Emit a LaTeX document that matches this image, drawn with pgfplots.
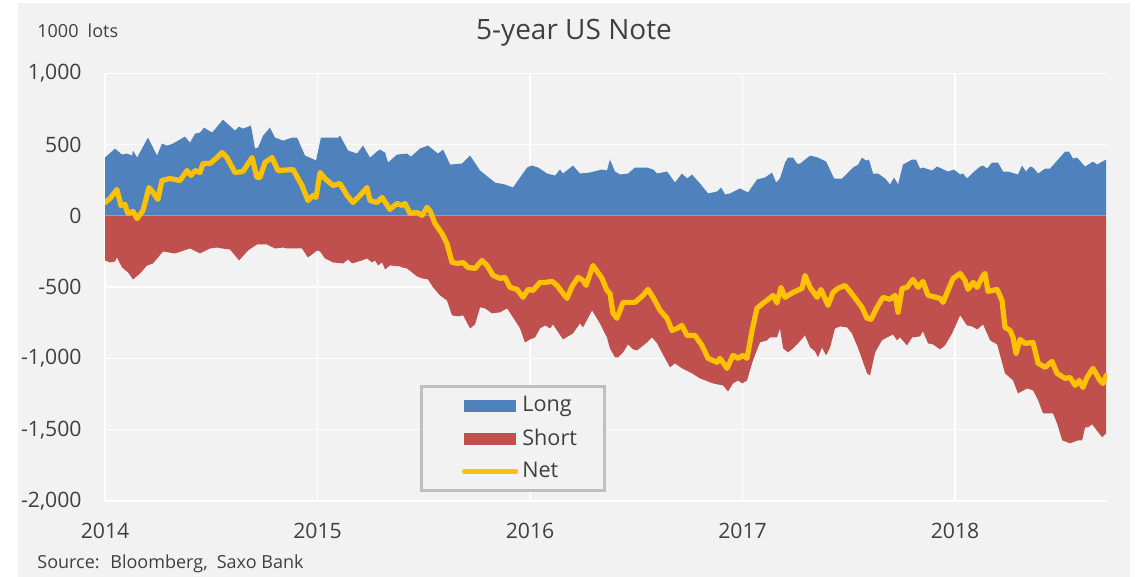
\documentclass[border=0pt]{standalone}
\usepackage{fontspec}
\setmainfont{Open Sans}
\usepackage{pgfplots}
\usepackage{pgfplotstable}
\pgfplotsset{compat=1.18}

\definecolor{bg}{HTML}{F2F2F2}
\definecolor{longblue}{HTML}{4F81BD}
\definecolor{shortred}{HTML}{C0504D}
\definecolor{netyellow}{HTML}{FFC000}
\definecolor{txt}{HTML}{404040}
\definecolor{legendgray}{HTML}{BFBFBF}
\definecolor{zeroline}{HTML}{C98C8C}

\begin{document}

% positions in 1000 lots, x = decimal year
\pgfplotstableread{
x y
2014.000 410
2014.047 473
2014.080 431
2014.104 438
2014.127 424
2014.132 459
2014.151 410
2014.202 550
2014.245 424
2014.268 508
2014.292 494
2014.320 508
2014.376 557
2014.400 515
2014.424 578
2014.447 585
2014.466 620
2014.504 585
2014.555 676
2014.612 599
2014.631 627
2014.649 613
2014.687 634
2014.706 473
2014.720 480
2014.744 564
2014.776 620
2014.800 550
2014.838 529
2014.880 550
2014.904 550
2014.941 424
2014.974 403
2014.993 389
2015.016 550
2015.035 550
2015.096 550
2015.106 564
2015.144 459
2015.186 438
2015.214 494
2015.247 410
2015.285 459
2015.294 466
2015.318 445
2015.332 375
2015.374 431
2015.421 438
2015.440 417
2015.482 473
2015.520 494
2015.567 438
2015.591 466
2015.624 361
2015.680 368
2015.718 424
2015.765 319
2015.835 235
2015.882 221
2015.920 200
2015.986 340
2016.009 354
2016.038 340
2016.080 298
2016.118 284
2016.141 326
2016.155 298
2016.202 354
2016.235 298
2016.282 305
2016.339 326
2016.362 319
2016.376 396
2016.400 312
2016.424 291
2016.461 298
2016.494 340
2016.551 340
2016.579 326
2016.598 298
2016.645 312
2016.682 235
2016.715 298
2016.739 263
2016.762 291
2016.800 228
2016.838 158
2016.880 172
2016.899 200
2016.918 151
2016.941 158
2016.988 193
2017.026 165
2017.068 256
2017.106 270
2017.139 305
2017.158 235
2017.176 263
2017.200 375
2017.214 410
2017.238 410
2017.256 368
2017.271 368
2017.318 424
2017.355 410
2017.393 382
2017.431 263
2017.468 263
2017.520 340
2017.544 361
2017.562 410
2017.581 389
2017.595 396
2017.614 298
2017.638 298
2017.671 263
2017.694 221
2017.713 270
2017.732 221
2017.755 361
2017.798 396
2017.816 396
2017.835 333
2017.849 340
2017.892 319
2017.915 347
2017.967 312
2017.995 326
2018.024 291
2018.038 298
2018.056 263
2018.085 305
2018.118 347
2018.132 354
2018.151 333
2018.174 375
2018.202 375
2018.226 312
2018.249 312
2018.296 291
2018.315 354
2018.334 312
2018.353 347
2018.367 340
2018.391 298
2018.424 333
2018.447 333
2018.518 452
2018.536 452
2018.555 403
2018.574 410
2018.612 347
2018.649 382
2018.668 361
2018.711 396
}\longdata

\pgfplotstableread{
x y
2014.000 -312
2014.024 -326
2014.047 -319
2014.056 -291
2014.080 -361
2014.108 -396
2014.132 -445
2014.165 -403
2014.198 -347
2014.226 -333
2014.273 -249
2014.329 -263
2014.400 -228
2014.447 -263
2014.494 -228
2014.527 -221
2014.551 -228
2014.588 -235
2014.631 -312
2014.673 -242
2014.715 -200
2014.762 -200
2014.800 -228
2014.838 -221
2014.856 -228
2014.927 -228
2014.955 -291
2014.998 -242
2015.012 -249
2015.035 -298
2015.073 -326
2015.120 -333
2015.144 -305
2015.162 -333
2015.209 -312
2015.233 -298
2015.256 -326
2015.271 -312
2015.285 -347
2015.304 -326
2015.318 -375
2015.341 -347
2015.388 -354
2015.398 -361
2015.421 -368
2015.468 -424
2015.492 -438
2015.520 -445
2015.544 -501
2015.576 -557
2015.609 -592
2015.633 -697
2015.661 -704
2015.685 -697
2015.718 -789
2015.741 -761
2015.765 -641
2015.788 -648
2015.821 -683
2015.859 -676
2015.892 -648
2015.920 -711
2015.953 -789
2015.976 -887
2016.000 -866
2016.024 -852
2016.047 -789
2016.071 -768
2016.094 -789
2016.108 -761
2016.155 -866
2016.179 -845
2016.202 -824
2016.235 -754
2016.249 -782
2016.292 -663
2016.329 -754
2016.362 -852
2016.376 -929
2016.400 -992
2016.414 -992
2016.438 -957
2016.461 -901
2016.485 -936
2016.504 -943
2016.551 -887
2016.574 -852
2016.598 -894
2016.635 -999
2016.659 -1062
2016.682 -1034
2016.715 -1069
2016.762 -1104
2016.800 -1140
2016.861 -1175
2016.908 -1189
2016.932 -1231
2016.955 -1175
2016.979 -1154
2016.998 -1175
2017.021 -1154
2017.049 -1013
2017.082 -887
2017.115 -873
2017.129 -852
2017.162 -852
2017.176 -790
2017.191 -929
2017.214 -957
2017.238 -929
2017.261 -894
2017.294 -838
2017.318 -922
2017.341 -950
2017.355 -992
2017.374 -922
2017.393 -978
2017.412 -922
2017.435 -789
2017.459 -775
2017.492 -782
2017.515 -824
2017.544 -929
2017.586 -1104
2017.600 -1118
2017.624 -957
2017.656 -873
2017.680 -852
2017.708 -831
2017.727 -873
2017.741 -852
2017.774 -908
2017.798 -852
2017.835 -845
2017.849 -810
2017.873 -894
2017.896 -901
2017.929 -936
2017.953 -908
2017.986 -824
2018.024 -697
2018.056 -768
2018.080 -775
2018.104 -796
2018.132 -761
2018.165 -873
2018.198 -901
2018.212 -978
2018.235 -1104
2018.273 -1154
2018.296 -1245
2018.339 -1210
2018.367 -1224
2018.391 -1294
2018.414 -1385
2018.461 -1385
2018.480 -1455
2018.504 -1574
2018.541 -1595
2018.579 -1574
2018.598 -1574
2018.612 -1483
2018.626 -1483
2018.645 -1462
2018.692 -1553
2018.711 -1525
}\shortdata

\pgfplotstableread{
x y
2014.000 95
2014.024 123
2014.056 186
2014.075 74
2014.094 81
2014.108 18
2014.132 32
2014.151 -18
2014.179 39
2014.207 200
2014.226 165
2014.249 116
2014.268 249
2014.306 263
2014.353 249
2014.386 319
2014.405 284
2014.424 319
2014.447 305
2014.461 368
2014.494 368
2014.527 410
2014.551 445
2014.574 410
2014.612 305
2014.649 312
2014.692 410
2014.715 270
2014.729 270
2014.753 375
2014.786 410
2014.814 319
2014.885 326
2014.927 214
2014.955 109
2014.979 144
2014.993 130
2015.012 305
2015.035 263
2015.073 214
2015.106 228
2015.139 144
2015.167 95
2015.200 144
2015.233 200
2015.247 109
2015.280 95
2015.304 130
2015.341 46
2015.374 88
2015.398 74
2015.412 88
2015.435 18
2015.468 25
2015.492 4
2015.515 60
2015.529 39
2015.553 -53
2015.576 -102
2015.586 -123
2015.609 -193
2015.633 -326
2015.661 -333
2015.685 -326
2015.708 -361
2015.741 -368
2015.774 -312
2015.798 -347
2015.826 -417
2015.859 -438
2015.882 -431
2015.906 -501
2015.939 -515
2015.967 -571
2015.991 -515
2016.014 -522
2016.047 -466
2016.071 -466
2016.104 -459
2016.127 -487
2016.155 -543
2016.174 -578
2016.198 -494
2016.226 -431
2016.249 -452
2016.264 -487
2016.296 -347
2016.339 -438
2016.362 -522
2016.376 -543
2016.391 -683
2016.409 -718
2016.438 -606
2016.494 -606
2016.532 -557
2016.555 -515
2016.579 -571
2016.612 -662
2016.645 -718
2016.668 -803
2016.692 -789
2016.715 -768
2016.739 -838
2016.776 -838
2016.809 -908
2016.838 -999
2016.880 -1027
2016.894 -999
2016.927 -1069
2016.955 -978
2016.979 -999
2017.002 -978
2017.021 -999
2017.045 -803
2017.068 -648
2017.096 -613
2017.115 -592
2017.144 -557
2017.162 -610
2017.181 -501
2017.200 -571
2017.238 -536
2017.280 -508
2017.294 -417
2017.318 -501
2017.351 -571
2017.369 -515
2017.402 -627
2017.426 -536
2017.449 -508
2017.482 -487
2017.520 -557
2017.562 -641
2017.586 -718
2017.605 -725
2017.633 -641
2017.661 -571
2017.694 -585
2017.718 -557
2017.732 -676
2017.751 -508
2017.774 -501
2017.802 -445
2017.826 -501
2017.849 -459
2017.873 -557
2017.929 -578
2017.944 -606
2017.967 -522
2017.991 -438
2018.024 -403
2018.047 -452
2018.061 -515
2018.085 -466
2018.104 -501
2018.132 -417
2018.141 -403
2018.155 -529
2018.198 -515
2018.221 -592
2018.235 -782
2018.259 -803
2018.273 -852
2018.287 -964
2018.306 -866
2018.329 -894
2018.367 -887
2018.391 -1034
2018.424 -1062
2018.456 -1020
2018.480 -1104
2018.518 -1140
2018.541 -1133
2018.565 -1189
2018.584 -1154
2018.602 -1203
2018.621 -1133
2018.649 -1069
2018.682 -1154
2018.696 -1175
2018.711 -1118
}\netdata

\begin{tikzpicture}
\useasboundingbox (-52.5pt,-38pt) rectangle (515pt,250.5pt);
\fill[bg] (-43.5pt,-38pt) rectangle (512.5pt,249pt);
\begin{axis}[
    scale only axis,
    width=501pt, height=213.75pt,
    xmin=2014, xmax=2018.715,
    ymin=-2000, ymax=1000,
    xtick={2014,2015,2016,2017,2018},
    ytick={-2000,-1500,-1000,-500,0,500,1000},
    grid=major,
    grid style={white, line width=0.75pt},
    axis line style={draw=none},
    major tick length=0pt,
    /pgf/number format/assume math mode=true,
    tick label style={font=\fontsize{10.6}{12}\selectfont, text=txt},
    xticklabel style={/pgf/number format/1000 sep={}, anchor=north, inner sep=0pt, yshift=-11pt},
    yticklabel style={/pgf/number format/1000 sep={,}, anchor=east, inner sep=0pt, xshift=-11.5pt},
    legend cell align=left,
    legend style={at={(0.3144,0.2713)}, anchor=north west,
        draw=legendgray, line width=1.5pt, fill=bg,
        font=\fontsize{10.8}{13}\selectfont, text=txt,
        inner xsep=12pt, inner ysep=3pt, row sep=3pt,
        /tikz/every even column/.append style={column sep=0.5pt}},
]
\addplot[draw=none, fill=longblue,
    legend image code/.code={\path (-8pt,0pt); \fill[longblue] (0pt,-3pt) rectangle (26pt,3pt);}]
    table {\longdata} \closedcycle;
\addlegendentry{Long}
\addplot[draw=none, fill=shortred,
    legend image code/.code={\path (-8pt,0pt); \fill[shortred] (0pt,-3pt) rectangle (26pt,3pt);}]
    table {\shortdata} \closedcycle;
\addlegendentry{Short}
\addplot[zeroline, line width=0.5pt, forget plot] coordinates {(2014,0) (2018.711,0)};
\addplot[netyellow, line width=2.6pt, line join=round, line cap=round,
    legend image code/.code={\path (-8pt,0pt); \draw[netyellow, line width=2.2pt, line cap=round] (0pt,0pt) -- (26pt,0pt);}]
    table {\netdata};
\addlegendentry{Net}
\end{axis}
\node[text=txt, font=\fontsize{14}{16}\selectfont] at (234.5pt,234pt) {5-year US Note};
\node[text=txt, font=\fontsize{9}{11}\selectfont, anchor=west, inner sep=0pt] at (-34pt,235pt) {1000\hspace{0.25em} lots};
\node[text=txt, font=\fontsize{9}{11}\selectfont, anchor=west, inner sep=0pt] at (-34pt,-31.5pt) {Source:\hspace{0.25em} Bloomberg,\hspace{0.25em} Saxo Bank};
\end{tikzpicture}
\end{document}
